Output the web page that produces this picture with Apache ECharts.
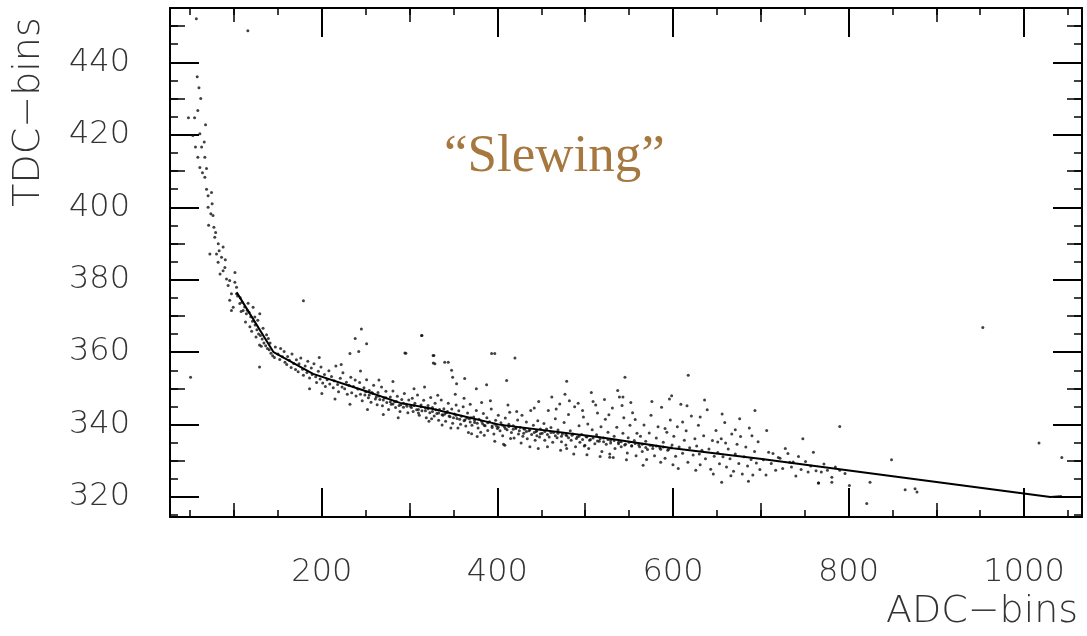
<!DOCTYPE html>
<html>
<head>
<meta charset="utf-8">
<script src="https://cdn.jsdelivr.net/npm/echarts@6/dist/echarts.min.js"></script>
<style>
html, body {margin: 0; padding: 0; background: #fff;}
#main {width: 1087px; height: 636px;}
</style>
</head>
<body>
<div id="main"></div>
<script>
// axis ranges, labels and tick steps
var adcRange = [27, 1066];
var tdcRange = [314.5, 455];
var adcLabels = [200, 400, 600, 800, 1000];
var tdcLabels = [320, 340, 360, 380, 400, 420, 440];
var adcTickSteps = [200, 100, 50];
var tdcTickSteps = [20, 10, 5];

// fitted slewing curve
var fitLine = [[103, 376.5], [145, 360], [190, 354], [247, 349.5], [289, 346], [323, 344.5], [402, 340],
	[517, 336.5], [600, 333.5], [699, 330.6], [1030, 320], [1043, 320.2]];

// steep part at low ADC
var steepPts = [[48, 424.7], [55, 424.7], [58.7, 426.7], [67.5, 422.8], [53, 419.8], [61, 420.3], [56, 416.6], [63, 416.6],
	[66.7, 413.8], [58.7, 413.8], [61, 411], [68.6, 410.7], [66.7, 408.3], [64, 409.5], [68.6, 405], [70.4, 403.2], [74.3, 404.1],
	[70.4, 400], [73.5, 398.2], [76, 397.7], [71, 395], [77, 394.5], [78, 391.7], [82, 389.9], [87.5, 389], [80, 387.1],
	[72.4, 387.1], [85.7, 386.2], [81.8, 384.8], [89.5, 383.4], [87.5, 382.5], [84, 381.6], [91.4, 380.2], [95, 379.8],
	[100.9, 379.3], [102.8, 377.9], [93.2, 378.4], [97, 376.1], [102.8, 376.1], [95, 374.3], [99, 372.4], [97, 371.5],
	[106.5, 373.4], [110.3, 371.5], [114, 370.6], [121.7, 372.4], [129.3, 370.6], [123.6, 369.7], [62, 430], [60, 433],
	[57, 452], [115.7, 448.7], [58, 436], [66, 418], [75, 401], [79, 393], [83, 388], [90, 385.5], [101, 382], [104, 375.5]];

var kneePts = [[107, 375], [109, 373.8], [112, 372.5], [115, 371.6], [117, 371], [119, 369.8], [121, 368.5], [118, 367],
	[124, 367.5], [126, 366.2], [128, 365], [125, 364.2], [130, 364.6], [132, 363.6], [134, 362.5], [131, 361.6], [136, 361.8],
	[138, 361], [140, 360.7], [137, 364.8], [142, 359.7], [144, 359], [141, 362.5], [146, 358.5], [127, 368.8], [133, 366.6],
	[113, 368.3], [120, 365.8], [129, 362], [139, 363.8], [147, 361.4], [116, 373.5], [108, 371.2]];

var band1 = [[150, 359.5], [152, 358], [153, 361], [155, 358.7], [157, 360.2], [158, 357.2], [160, 356.6], [161, 358.8],
	[163, 357.8], [165, 355.8], [166, 359.5], [168, 356.9], [170, 355.2], [171, 357.9], [173, 354.6], [174, 356.8], [176, 358.4],
	[178, 355.3], [179, 353.6], [181, 356.2], [183, 354.4], [184, 357.5], [186, 352.9], [188, 355.6], [189, 353.8], [191, 356.8],
	[193, 353.2], [194, 351.6], [196, 354.7], [198, 352.6], [199, 355.9], [201, 351.5], [203, 353.8], [204, 350.5], [206, 352.4],
	[208, 354.9], [209, 351.2], [211, 353.3], [213, 350.2], [214, 352.1], [216, 356.2], [218, 351.1], [219, 349.1], [221, 352.8],
	[223, 350.4], [224, 354.3], [226, 349.9], [228, 351.7], [229, 348.4], [231, 350.9], [233, 353.1], [234, 348.8], [236, 350.5],
	[238, 352.3], [239, 347.9], [241, 349.8], [243, 351.6], [244, 348.4], [246, 346.6], [248, 350.2], [249, 348.2], [251, 352.4],
	[253, 347.4], [254, 349.4], [256, 346.2], [258, 348.6], [259, 350.9], [261, 347.1], [263, 345.5], [264, 348.9], [266, 346.9],
	[268, 350.4], [269, 345.2], [271, 347.4], [273, 349.2], [274, 346.1], [276, 344.2], [278, 347.6], [279, 345.6], [281, 349.3],
	[283, 346.3], [284, 344.7], [286, 347.8], [288, 345.3], [289, 343.6], [291, 346.9], [293, 344.8], [294, 348.6], [296, 345.6],
	[298, 343.3], [299, 346.8], [186, 349.9], [200, 348.6], [215, 347.1], [232, 345.6], [252, 344.2], [270, 342.8], [287, 341.9],
	[197, 358.5], [222, 356.6], [244, 354.8], [265, 352.3], [281, 351.9]];

var band2 = [[301, 345.1], [303, 347.3], [304, 343.6], [306, 345.9], [308, 344.1], [309, 348.2], [311, 342.6], [313, 345.4],
	[314, 343.8], [316, 346.7], [318, 344.6], [319, 341.9], [321, 345.3], [323, 343.3], [324, 347.5], [326, 344.7], [328, 342.4],
	[329, 345.9], [331, 343.1], [333, 341.2], [334, 344.2], [336, 346.8], [338, 342.6], [339, 344.4], [341, 340.9], [343, 343.6],
	[344, 345.9], [346, 342.2], [348, 344.3], [349, 340.4], [351, 342.9], [353, 345.4], [354, 341.7], [356, 343.8], [358, 340.1],
	[359, 342.3], [361, 344.9], [363, 341.3], [364, 339.6], [366, 343.2], [368, 341.6], [369, 345.6], [371, 339.8], [373, 342.1],
	[374, 340.6], [376, 343.9], [378, 339.1], [379, 341.5], [381, 337.9], [383, 340.3], [384, 343.1], [386, 339.7], [388, 341.9],
	[389, 338.4], [391, 340.8], [393, 344.3], [394, 339.2], [396, 337.4], [398, 341.2], [399, 339.6], [401, 342.6], [403, 338.3],
	[404, 340.5], [406, 336.9], [408, 339.4], [409, 341.8], [411, 338.6], [413, 340.1], [414, 343.4], [416, 337.8], [418, 339.7],
	[419, 336.3], [421, 338.9], [423, 341.3], [424, 337.4], [426, 339.2], [428, 342.6], [429, 336.8], [431, 338.7], [433, 340.7],
	[434, 336.1], [436, 338.3], [438, 343.9], [439, 337.3], [441, 339.8], [443, 335.7], [444, 338.1], [446, 341.1], [448, 336.6],
	[449, 338.8], [305, 349.9], [322, 340.9], [337, 339.9], [352, 348.4], [367, 337.8], [382, 346.1], [397, 335.4], [412, 345.4],
	[427, 334.9], [442, 344.6], [317, 350.4], [332, 348.1], [347, 339.1], [362, 347.3], [377, 336.7], [392, 346.6], [407, 334.6],
	[422, 343.6], [437, 333.9], [447, 346.4], [310, 343.2], [325, 341.6], [340, 342.9], [355, 339.1], [370, 341.9], [385, 337.1],
	[400, 338.9], [415, 336.2], [430, 337.6], [445, 336.9]];

// points sitting right on the dense core of the band
var corePts = [[250, 349.1], [254, 348.2], [257, 348.9], [262, 347.6], [265, 347.9], [270, 346.8], [273, 347.4], [278, 346.3],
	[281, 345.7], [285, 346.4], [290, 345.5], [293, 345.9], [297, 345.1], [302, 344.7], [305, 345.3], [310, 344.2], [313, 344.9],
	[318, 343.8], [321, 344.4], [326, 343.6], [330, 344.1], [333, 343.2], [337, 342.7], [342, 343.3], [345, 342.4], [350, 341.9],
	[353, 342.6], [357, 341.5], [362, 341.1], [365, 341.8], [369, 340.7], [374, 341.2], [377, 340.4], [382, 340.9], [385, 339.8],
	[389, 340.5], [394, 339.6], [397, 340.2], [401, 339.3], [406, 339.8], [409, 338.9], [413, 339.5], [418, 338.7], [421, 339.2],
	[425, 338.3], [430, 338.9], [433, 338.1], [437, 338.6], [442, 337.8], [445, 338.3], [449, 337.5], [454, 338.1], [457, 337.3],
	[461, 337.8], [466, 336.9], [469, 337.6], [473, 336.8], [478, 337.2], [481, 336.4], [485, 337.1], [490, 336.2], [493, 336.8],
	[497, 335.9], [502, 336.6], [505, 335.7], [509, 336.3], [514, 335.5], [517, 336.1], [521, 335.3], [526, 335.9], [529, 334.9],
	[533, 335.6], [538, 334.7], [541, 335.3], [545, 334.4], [550, 335.1], [553, 334.2], [557, 334.8], [562, 333.9], [565, 334.6],
	[569, 333.7], [574, 334.3], [577, 333.4], [581, 334.1], [586, 333.2], [589, 333.8], [594, 332.9], [598, 333.6]];

var band3 = [[451, 337.6], [453, 340.3], [454, 335.7], [456, 338.8], [458, 343.9], [459, 336.6], [461, 339.2], [463, 335.1],
	[464, 337.8], [466, 341.6], [468, 336.4], [469, 338.5], [471, 345.7], [473, 335.3], [474, 337.4], [476, 340.6], [478, 334.4],
	[479, 336.9], [481, 342.8], [483, 338.3], [484, 335.7], [486, 337.4], [488, 344.9], [489, 333.9], [491, 336.6], [493, 339.7],
	[494, 335.1], [496, 337.3], [498, 342.1], [499, 334.1], [501, 336.7], [503, 340.2], [504, 333.4], [506, 335.9], [508, 338.6],
	[509, 346.4], [511, 334.7], [513, 337.2], [514, 343.2], [516, 335.4], [518, 339.4], [519, 332.6], [521, 336.3], [523, 341.5],
	[524, 334.6], [526, 337.9], [528, 331.9], [529, 335.6], [531, 344.6], [533, 336.8], [534, 333.4], [536, 339.3], [538, 335.1],
	[539, 347.6], [541, 333.9], [543, 337.6], [544, 341.9], [546, 334.6], [548, 332.2], [549, 336.4], [551, 339.8], [553, 334.1],
	[554, 343.3], [556, 335.6], [558, 331.4], [559, 337.6], [457, 333.9], [472, 332.9], [487, 331.9], [502, 331.7], [517, 331.2],
	[532, 330.9], [547, 330.3], [462, 347.6], [477, 348.4], [492, 345.9], [507, 348.9], [522, 346.9], [537, 349.4], [552, 346.1],
	[467, 344.3], [482, 346.6], [497, 343.9], [512, 345.4], [527, 342.7], [542, 345.3], [557, 341.4]];

var band4 = [[561, 334.4], [563, 336.8], [565, 332.6], [567, 339.9], [569, 335.4], [571, 333.1], [573, 337.7], [575, 342.6],
	[577, 334.2], [579, 331.4], [581, 336.3], [583, 339.4], [585, 333.6], [587, 344.8], [589, 335.1], [591, 330.7], [593, 337.9],
	[595, 333.2], [597, 341.3], [599, 334.4], [601, 336.8], [603, 331.3], [605, 339.4], [607, 333.8], [609, 345.6], [611, 332.1],
	[613, 335.7], [615, 338.3], [617, 329.6], [619, 333.6], [621, 342.4], [623, 331.6], [625, 336.1], [627, 334.1], [629, 339.8],
	[631, 328.9], [633, 332.9], [635, 336.9], [637, 330.6], [639, 344.1], [641, 333.3], [643, 327.7], [645, 335.6], [647, 331.3],
	[649, 338.4], [651, 332.3], [653, 329.2], [655, 336.1], [657, 331.1], [659, 340.6], [661, 328.3], [663, 333.3], [665, 330.6],
	[667, 337.4], [669, 327.1], [671, 331.9], [673, 334.6], [675, 329.3], [677, 336.7], [679, 326.4], [681, 331.1], [683, 333.8],
	[685, 328.6], [687, 339.1], [689, 330.4], [691, 326.1], [693, 332.6], [695, 329.4], [697, 335.3], [699, 327.6], [566, 328.8],
	[586, 329.6], [606, 327.9], [626, 327.4], [646, 326.4], [666, 325.9], [686, 324.4], [576, 346.4], [596, 347.1], [616, 345.2],
	[636, 346.8], [656, 342.9], [676, 341.6], [591, 338.9], [611, 340.7], [631, 342.1], [651, 335.2], [671, 338.6], [570, 330.4],
	[600, 328.9], [630, 331.9], [660, 334.9], [690, 336.9]];

var tailPts = [[703, 330.3], [706, 326.1], [709, 332.4], [712, 329.3], [714, 332], [717, 327.4], [720, 330.9], [722, 330.7],
	[725, 327.9], [728, 333.4], [731, 332], [733, 329.6], [735, 328.3], [737, 329.7], [740, 325.8], [743, 331.2], [746, 327.6],
	[748, 336.1], [751, 329.8], [754, 326.9], [757, 328.6], [760, 332.4], [763, 327.3], [766, 323.9], [769, 326.9], [772, 329.1],
	[776, 327.4], [781, 325.5], [781, 324.1], [785, 328.3], [790, 327.4], [796, 326.5], [801, 323.2], [706.8, 338.4]];

var strayPts = [[50.4, 353.1], [129, 355.9], [179, 374.2], [245, 366.4], [251, 362.3], [232, 359.6], [242, 360.2], [238, 363.8],
	[295.7, 359.7], [314, 364.6], [326.8, 359.1], [328.8, 356.8], [340, 357.2], [344, 357.2], [347.8, 355], [349, 353.1],
	[353.5, 351.3], [362.7, 352.7], [393.4, 359.6], [397, 359.6], [420, 358.4], [387.7, 351], [376, 349.9], [410.5, 352.2],
	[478.9, 352], [545.3, 353.1], [617.4, 353.6], [693.4, 343.9], [598.5, 348], [543, 347.6], [655.5, 324.1], [528, 331],
	[790, 339.5], [849, 330.3], [1017, 334.9], [1043, 330.9], [820.8, 318.2], [875.8, 322.3], [878, 321.4], [824.5, 324.1],
	[765.6, 323.9], [408.5, 334.3], [446.5, 333.4], [478.9, 333.4], [499.7, 334.3], [370.6, 337.5], [313.6, 364.6],
	[294.6, 359.8], [327.6, 359.1], [327, 357], [953, 366.8], [864.5, 322]];

var W = 1087, H = 636;
var frame = {left: 170, right: 5, top: 8, bottom: 119};
var xTickLen = [29, 14, 7];
var yTickLen = [29, 15, 8];
var tickWidth = [2, 1.5, 1.5];
var pxPerAdc = (W - frame.left - frame.right) / (adcRange[1] - adcRange[0]);
var pxPerTdc = (H - frame.top - frame.bottom) / (tdcRange[1] - tdcRange[0]);

var myChart = echarts.init(document.getElementById("main"));

function frameAxis(pos, range, labels) {
	return {
		type: 'value', gridIndex: 0, position: pos, min: range[0], max: range[1], splitLine: {show: false},
		axisLine: {show: true, onZero: false, lineStyle: {color: '#000', width: 2}},
		axisTick: {show: false},
		axisLabel: labels ? {
			customValues: labels, fontSize: 32, margin: 40, color: '#333',
			fontFamily: 'DejaVu Sans', fontWeight: 300,
			formatter: function (v) {
				return String(v);
			}
		} : {show: false}
	};
}

// axis that only carries a title
function nameAxis(grid, pos, name, gap, rotate) {
	return {
		type: 'value', gridIndex: grid, position: pos, min: 0, max: 1,
		name: name, nameLocation: 'middle', nameGap: gap, nameRotate: rotate,
		nameTextStyle: {color: '#333', fontFamily: 'DejaVu Sans', fontWeight: 300, fontSize: 38},
		axisLine: {show: false}, axisTick: {show: false}, axisLabel: {show: false}, splitLine: {show: false}
	};
}

function hiddenAxis(grid) {
	return {type: 'value', gridIndex: grid, show: false, min: 0, max: 1};
}

var option = {
	animation: false,
	title: {
		text: '\u201CSlewing\u201D',
		left: 444,
		top: 131,
		padding: 0,
		textStyle: {color: '#A6783F', fontFamily: 'Liberation Serif', fontWeight: 'normal', fontSize: 53}
	},
	grid: [
		{left: frame.left, right: frame.right, top: frame.top, bottom: frame.bottom},
		{left: 170, right: 5, top: 12, bottom: 424},
		{left: 882, right: 5, top: 8, bottom: 119}
	],
	xAxis: [
		frameAxis('bottom', adcRange, adcLabels),
		frameAxis('top', adcRange, null),
		hiddenAxis(1),
		nameAxis(2, 'bottom', 'ADC\u2212bins', 76, 0)
	],
	yAxis: [
		frameAxis('left', tdcRange, tdcLabels),
		frameAxis('right', tdcRange, null),
		nameAxis(1, 'left', 'TDC\u2212bins', 122, 90),
		hiddenAxis(2)
	],
	series: [
		{
			name: 'events',
			type: 'scatter',
			xAxisIndex: 0,
			yAxisIndex: 0,
			symbolSize: 3,
			itemStyle: {color: '#111'},
			data: [].concat(steepPts, kneePts, band1, band2, corePts, band3, band4, tailPts, strayPts)
		},
		{
			name: 'fit',
			type: 'line',
			xAxisIndex: 0,
			yAxisIndex: 0,
			symbol: 'none',
			z: 5,
			lineStyle: {color: '#000', width: 2},
			data: fitLine
		}
	]
};

// inward tick marks: a thin strip grid per side and size, its split lines are the ticks
function addTickStrip(side, step, len, width) {
	var gi = option.grid.length;
	var line = {show: true, showMinLine: false, showMaxLine: false, lineStyle: {color: '#000', width: width}};
	var g, xa, ya;
	if (side == 'bottom' || side == 'top') {
		g = {left: frame.left - adcRange[0] * pxPerAdc, right: frame.right, height: len};
		g.top = side == 'bottom' ? H - frame.bottom - len : frame.top;
		xa = {type: 'value', gridIndex: gi, min: 0, max: adcRange[1], interval: step, splitLine: line,
			axisLine: {show: false}, axisTick: {show: false}, axisLabel: {show: false}};
		ya = hiddenAxis(gi);
	} else {
		var lo = Math.floor(tdcRange[0] / step) * step;
		var yLo = H - frame.bottom + (tdcRange[0] - lo) * pxPerTdc;
		g = {top: frame.top, bottom: H - yLo, width: len};
		g.left = side == 'left' ? frame.left : W - frame.right - len;
		ya = {type: 'value', gridIndex: gi, min: lo, max: tdcRange[1], interval: step, splitLine: line,
			axisLine: {show: false}, axisTick: {show: false}, axisLabel: {show: false}};
		xa = hiddenAxis(gi);
	}
	option.grid.push(g);
	option.xAxis.push(xa);
	option.yAxis.push(ya);
}

for (var i = 0; i < 3; i++) {
	addTickStrip('bottom', adcTickSteps[i], xTickLen[i], tickWidth[i]);
	addTickStrip('top', adcTickSteps[i], xTickLen[i], tickWidth[i]);
	addTickStrip('left', tdcTickSteps[i], yTickLen[i], tickWidth[i]);
	addTickStrip('right', tdcTickSteps[i], yTickLen[i], tickWidth[i]);
}

myChart.setOption(option, true);
</script>
</body>
</html>
